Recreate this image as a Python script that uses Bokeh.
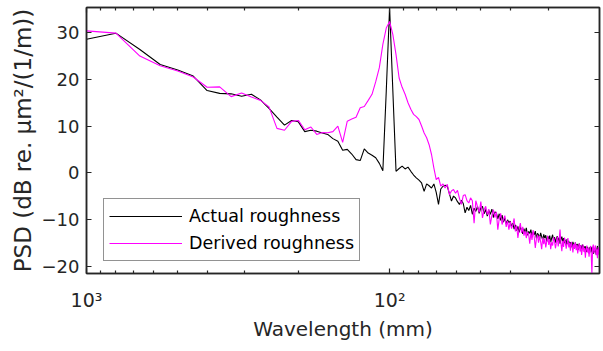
from bokeh.plotting import figure
from bokeh.models import (Range1d, FixedTicker, LogAxis, LinearAxis, Legend, LegendItem)
from bokeh.embed import file_html
from bokeh.resources import INLINE

# ---- data ----
record_length_mm = 4000.0
wavenumber_index = list(range(4, 201))  # k = 4 .. 200
wavelength_mm = [record_length_mm / k for k in wavenumber_index]

actual_roughness_db = [
    28.6, 29.9, 26.4, 23.2, 22.0, 20.7, 17.6, 17.0, 16.9, 16.4,   # k 4-13
    16.8, 15.6, 13.8, 11.9, 10.2, 11.2, 10.9, 8.8, 9.1, 8.9,      # 14-23
    8.5, 8.2, 7.3, 6.75, 4.8, 5.0, 4.0, 2.8, 2.6, 5.1,            # 24-33
    4.2, 3.75, 3.2, 2.0, 0.4, 17.5, 35.4, 17.5, 0.3, 0.9,         # 34-43
    1.4, 0.8, 1.2, 0.3, -0.5, -1.1, -1.6, -2.2, -4.0, -2.4,       # 44-53
    -2.8, -3.3, -2.4, -4.2, -6.8, -3.5, -2.9, -2.7, -2.9, -4.5,   # 54-63
    -6.1, -5.0, -5.4, -6.2, -6.8, -5.9, -6.6, -8.6, -7.4, -8.1,   # 64-73
    -7.0, -8.9, -7.6, -8.3, -7.2, -8.7, -7.5, -7.2, -8.8, -7.9,   # 74-83
    -9.3, -8.1, -8.9, -7.8, -9.6, -8.4, -8.6, -9.9, -8.8, -10.2,  # 84-93
    -9.1, -10.6, -9.7, -11.0, -10.1, -10.7, -10.4, -11.6, -10.8, -12.1,  # 94-103
    -11.2, -12.4, -11.5, -12.8, -11.7, -12.3, -13.1, -12.0, -12.9, -11.8,  # 104-113
    -13.4, -12.6, -13.0, -12.2, -13.8, -12.7, -13.3, -12.5, -14.1, -13.0,  # 114-123
    -13.3, -14.2, -12.9, -13.7, -14.5, -13.2, -14.0, -13.4, -14.8, -13.6,  # 124-133
    -14.3, -13.5, -14.9, -14.0, -13.3, -14.6, -13.8, -15.0, -14.1, -13.6,  # 134-143
    -14.7, -13.9, -15.2, -14.3, -13.7, -14.8, -14.0, -15.1, -14.4, -15.6,  # 144-153
    -14.2, -15.3, -14.6, -15.8, -14.9, -15.2, -16.0, -14.8, -15.5, -16.2,  # 154-163
    -15.0, -15.9, -15.3, -15.4, -16.5, -15.2, -16.1, -15.6, -16.8, -15.4,  # 164-173
    -16.3, -15.7, -16.9, -15.8, -16.4, -17.0, -15.9, -16.6, -17.3, -16.0,  # 174-183
    -16.1, -17.1, -15.9, -16.8, -17.4, -16.2, -17.0, -16.4, -17.5, -16.5,  # 184-193
    -15.7, -17.2, -16.6, -17.6, -16.3, -15.8, -16.8,                      # 194-200
]

derived_roughness_db = [
    30.4, 29.9, 25.0, 22.9, 21.8, 20.5, 18.3, 18.4, 16.3, 17.1,   # k 4-13
    16.2, 15.5, 14.1, 9.5, 9.1, 11.0, 11.2, 9.2, 9.8, 8.2,        # 14-23
    8.6, 8.55, 8.8, 10.0, 6.5, 11.05, 11.5, 11.9, 13.9, 14.2,     # 24-33
    15.5, 16.8, 19.5, 22.5, 27.5, 31.0, 32.4, 29.6, 25.3, 20.3,   # 34-43
    18.3, 16.8, 15.0, 13.6, 12.5, 12.0, 11.4, 10.0, 8.5, 7.5,     # 44-53
    6.0, 3.9, 1.0, -1.5, -1.0, -2.9, -2.4, -3.3, -2.5, -4.7,      # 54-63
    -3.9, -3.6, -4.4, -3.8, -5.5, -6.8, -4.9, -4.7, -6.0, -6.5,   # 64-73
    -5.4, -6.0, -10.8, -6.0, -7.3, -8.5, -6.2, -9.7, -8.0, -7.2,  # 74-83
    -9.0, -7.8, -11.1, -9.2, -7.9, -9.6, -8.4, -12.2, -9.9, -8.7, # 84-93
    -11.1, -10.0, -9.2, -11.6, -10.3, -12.2, -10.5, -12.0, -11.1, -9.8,   # 94-103
    -12.6, -11.3, -14.0, -12.1, -10.8, -12.9, -11.6, -13.5, -12.4, -14.0, # 104-113
    -12.7, -13.2, -15.2, -12.9, -14.4, -12.3, -13.8, -16.1, -14.2, -13.3, # 114-123
    -15.0, -13.6, -14.8, -16.4, -13.9, -15.3, -14.1, -16.0, -14.7, -13.5, # 124-133
    -15.5, -14.2, -16.4, -14.9, -15.6, -13.8, -14.7, -16.2, -15.0, -13.7, # 134-143
    -15.8, -14.4, -12.2, -15.1, -16.8, -14.6, -15.9, -13.9, -14.7, -16.3, # 144-153
    -15.2, -14.0, -16.0, -15.1, -16.7, -14.8, -15.6, -17.1, -15.3, -16.2, # 154-163
    -14.9, -16.6, -15.4, -17.3, -16.0, -15.2, -16.9, -15.5, -17.6, -16.3, # 164-173
    -15.4, -17.0, -16.1, -18.2, -16.4, -15.6, -17.1, -16.2, -18.0, -16.5, # 174-183
    -15.7, -17.4, -21.6, -16.0, -15.4, -17.3, -16.2, -15.6, -17.7, -16.4, # 184-193
    -18.3, -16.0, -17.5, -15.9, -16.9, -16.0, -16.8,                      # 194-200
]

x_major_ticks = [100, 1000]
x_minor_ticks = [20, 30, 40, 50, 60, 70, 80, 90, 200, 300, 400, 500, 600, 700, 800, 900]
x_tick_labels = {100: "10²", 1000: "10³"}
y_ticks = [-20, -10, 0, 10, 20, 30]
series_names = ["Actual roughness", "Derived roughness"]
series_colors = ["#000000", "#FF00FF"]

# ---- figure ----
FONT = "DejaVu Sans"
AX = "#262626"

p = figure(width=603, height=351, x_axis_type="log",
           x_range=Range1d(1000, 20.3), y_range=Range1d(-21.6, 35.4),
           output_backend="svg", toolbar_location=None,
           min_border_left=86, min_border_right=4, min_border_top=7, min_border_bottom=78)
p.grid.visible = False
p.outline_line_color = AX
p.outline_line_width = 1.5
p.background_fill_color = "white"
p.border_fill_color = "white"

r1 = p.line(wavelength_mm, actual_roughness_db, line_color=series_colors[0], line_width=1.1)
r2 = p.line(wavelength_mm, derived_roughness_db, line_color=series_colors[1], line_width=1.1)

xt = FixedTicker(ticks=x_major_ticks, minor_ticks=x_minor_ticks)
yt = FixedTicker(ticks=y_ticks, minor_ticks=[])

def style(ax, labels=True):
    ax.axis_line_color = AX
    ax.axis_line_width = 1.5
    ax.major_tick_line_color = AX
    ax.minor_tick_line_color = AX
    ax.major_tick_line_width = 1.2
    ax.minor_tick_line_width = 1.2
    ax.major_tick_in = 5
    ax.major_tick_out = 0
    ax.minor_tick_in = 3
    ax.minor_tick_out = 0
    ax.major_label_text_font = FONT
    ax.major_label_text_font_size = "18px"
    ax.major_label_text_color = AX
    ax.axis_label_text_font = FONT
    ax.axis_label_text_font_style = "normal"
    ax.axis_label_text_color = AX
    if not labels:
        ax.major_label_text_font_size = "1px"
        ax.major_label_text_alpha = 0
        ax.major_label_standoff = 0

xa = p.xaxis[0]
xa.ticker = xt
xa.major_label_overrides = x_tick_labels
xa.axis_label = "Wavelength (mm)"
style(xa)
xa.major_label_text_font_size = "19px"
xa.axis_label_text_font_size = "20px"
xa.major_label_standoff = 15
xa.axis_label_standoff = 3

ya = p.yaxis[0]
ya.ticker = yt
ya.axis_label = "PSD (dB re. μm²/(1/m))"
style(ya)
ya.axis_label_text_font_size = "23px"
ya.major_label_standoff = 7
ya.axis_label_standoff = 3

top = LogAxis(ticker=xt)
style(top, labels=False)
p.add_layout(top, "above")
right = LinearAxis(ticker=yt)
style(right, labels=False)
p.add_layout(right, "right")

legend = Legend(items=[LegendItem(label=series_names[0], renderers=[r1]),
                       LegendItem(label=series_names[1], renderers=[r2])],
                location=(17, 12), margin=0, padding=5, spacing=3,
                glyph_width=73, glyph_height=24, label_height=24, label_standoff=7,
                label_text_font=FONT, label_text_font_size="17.5px", label_text_color="#000000",
                border_line_color=AX, border_line_width=1,
                background_fill_color="white", background_fill_alpha=1)
p.add_layout(legend, "center")

open("out.html", "w").write(file_html(p, INLINE))
